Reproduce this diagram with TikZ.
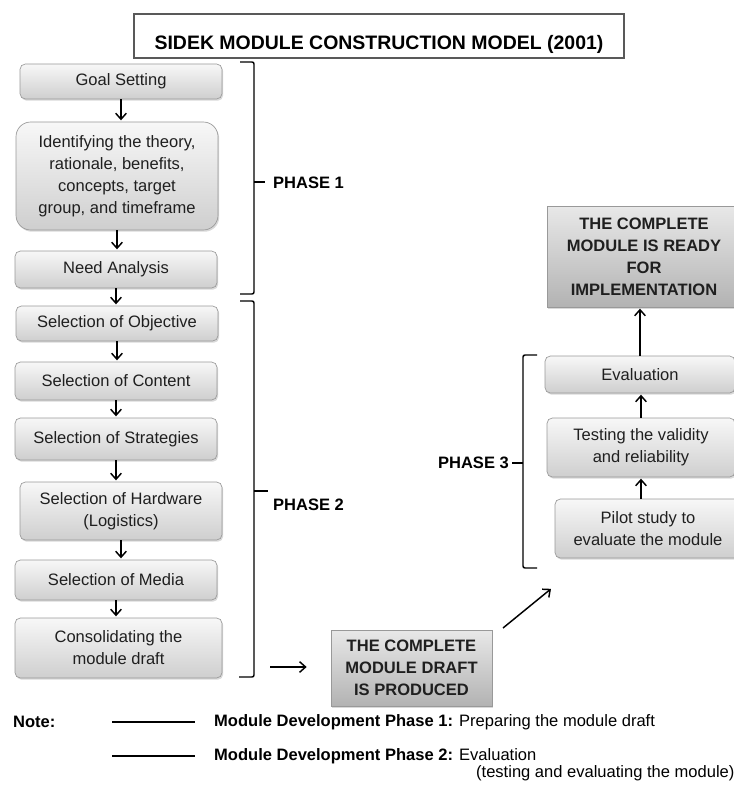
\documentclass[tikz,border=0pt]{standalone}
\usepackage{fontspec}
\setmainfont{Liberation Sans}
\usetikzlibrary{arrows.meta,shadows}

\begin{document}
\begin{tikzpicture}[x=0.75pt,y=-0.75pt,shorten >=1pt,->,
		>={Straight Barb[length=4.5pt,width=8pt]},line width=1.1pt]
			\tikzstyle{stepbox}=[draw=black!40,line width=0.5pt,rounded corners=4pt,
				top color=black!3,bottom color=black!19,
				drop shadow={shadow xshift=0.9pt,shadow yshift=-1.3pt,opacity=0.3},
				minimum width=151.5pt,align=center,text=black!88,
				font=\fontsize{12.4}{16.5}\selectfont]
			\tikzstyle{donebox}=[stepbox,rounded corners=0pt,
				top color=black!9,bottom color=black!30,
				font=\fontsize{12.4}{16.5}\selectfont\bfseries]
			\tikzstyle{phase}=[font=\fontsize{12.4}{16.5}\selectfont\bfseries]
			\tikzstyle{bracket}=[-,shorten >=0pt,line width=1.1pt,rounded corners=1.5pt]
			\useasboundingbox (0,0) rectangle (734,788);
			% title
			\node[draw=black!65,line width=1.6pt,minimum width=367.5pt,inner ysep=0pt,
				text height=27pt,text depth=6pt,
				font=\fontsize{14.6}{17}\selectfont\bfseries] (T) at (379,36)
				{SIDEK MODULE CONSTRUCTION MODEL (2001)};
			% phase 1 and 2
			\node[stepbox,minimum height=26.25pt] (S_1) at (121,81.5) {Goal Setting};
			\node[stepbox,minimum height=81pt,rounded corners=11pt] (S_2) at (117,176)
				{Identifying the theory,\\ rationale, benefits,\\ concepts, target\\ group, and timeframe};
			\node[stepbox,minimum height=27.75pt] (S_3) at (116,269.5) {Need Analysis};
			\node[stepbox,minimum height=26.25pt] (S_4) at (117,323.5) {Selection of Objective};
			\node[stepbox,minimum height=28.5pt] (S_5) at (116,381) {Selection of Content};
			\node[stepbox,minimum height=31.5pt] (S_6) at (116,439) {Selection of Strategies};
			\node[stepbox,minimum height=43.5pt] (S_7) at (121,511) {Selection of Hardware\\ (Logistics)};
			\node[stepbox,minimum height=30pt] (S_8) at (116,580) {Selection of Media};
			\node[stepbox,minimum height=45pt,minimum width=155.25pt] (S_9) at (118.5,648)
				{Consolidating the\\ module draft};
			\foreach \a/\b in {1/2,2/3,3/4,4/5,5/6,6/7,7/8,8/9}
				\draw (S_\a.south) -- (S_\a.south |- S_\b.north);
			\draw[bracket] (240,62) -- (254,62) -- (254,294) -- (240,294);
			\draw[bracket] (254,182) -- (265,182);
			\node[phase,anchor=west] (P_1) at (268,183) {PHASE 1};
			\draw[bracket] (240,301) -- (254,301) -- (254,677) -- (239,677);
			\draw[bracket] (254,491) -- (268,491);
			\node[phase,anchor=west] (P_2) at (268,505) {PHASE 2};
			% draft
			\node[donebox,minimum width=120.75pt,minimum height=57pt] (D) at (411.5,668)
				{THE COMPLETE\\ MODULE DRAFT\\ IS PRODUCED};
			\coordinate (A_1) at (270,667);
			\coordinate (A_2) at (308,667);
			\draw (A_1) -- (A_2);
			\coordinate (A_3) at (503,628);
			\coordinate (A_4) at (552,588);
			\draw (A_3) -- (A_4);
			% phase 3
			\node[stepbox,minimum width=139.5pt,minimum height=44.25pt] (E_1) at (648,528.5)
				{Pilot study to\\ evaluate the module};
			\node[stepbox,minimum width=141pt,minimum height=44.25pt] (E_2) at (641,447.5)
				{Testing the validity\\ and reliability};
			\node[stepbox,minimum width=142.5pt,minimum height=27.75pt] (E_3) at (640,374.5) {Evaluation};
			\node[donebox,minimum width=145.5pt,minimum height=75.75pt] (R_1) at (644,256.5)
				{THE COMPLETE\\ MODULE IS READY\\ FOR\\ IMPLEMENTATION};
			\draw (E_2.south |- E_1.north) -- (E_2.south);
			\draw (E_2.north) -- (E_2.north |- E_3.south);
			\draw (E_3.north) -- (E_3.north |- R_1.south);
			\draw[bracket] (537,355) -- (523,355) -- (523,568) -- (537,568);
			\draw[bracket] (523,463) -- (512,463);
			\node[phase,anchor=east] (P_3) at (514,463) {PHASE 3};
			% note
			\node[phase,anchor=west] (N) at (8,722) {Note:};
			\draw[bracket] (112,722) -- (195,722);
			\draw[bracket] (112,756) -- (195,756);
			\node[anchor=west,font=\fontsize{12.4}{16.5}\selectfont] (L_1) at (209,722)
				{\textbf{Module Development Phase 1:} Preparing the module draft};
			\node[anchor=west,font=\fontsize{12.4}{16.5}\selectfont] (L_2) at (209,756)
				{\textbf{Module Development Phase 2:} Evaluation};
			\node[anchor=west,font=\fontsize{12.4}{16.5}\selectfont] (L_3) at (471,773)
				{(testing and evaluating the module)};
			\end{tikzpicture}
\end{document}
